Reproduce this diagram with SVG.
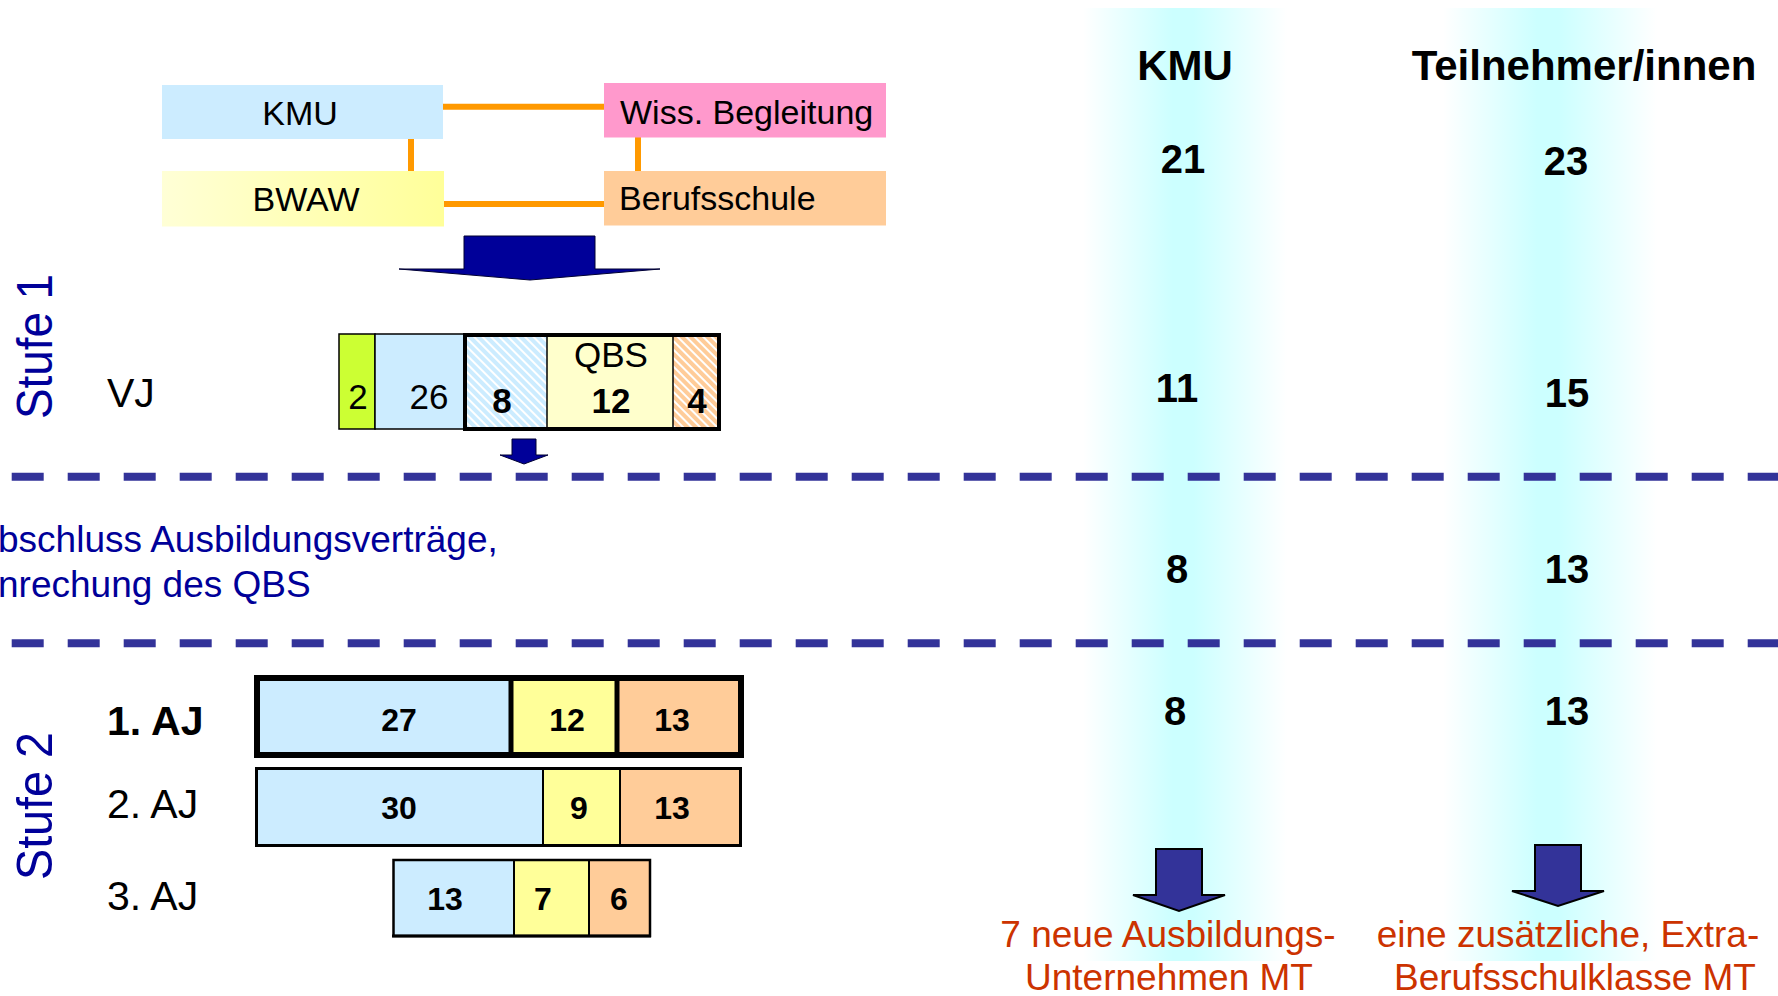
<svg xmlns="http://www.w3.org/2000/svg" width="1778" height="996" viewBox="0 0 1778 996">
<defs>
<linearGradient id="band" x1="0" y1="0" x2="1" y2="0">
<stop offset="0" stop-color="#FFFFFF"/>
<stop offset="0.44" stop-color="#CCFFFF"/>
<stop offset="0.54" stop-color="#CCFFFF"/>
<stop offset="1" stop-color="#FFFFFF"/>
</linearGradient>
<linearGradient id="bwaw" x1="0" y1="0" x2="1" y2="0">
<stop offset="0" stop-color="#FFFFD6"/>
<stop offset="1" stop-color="#FFFF99"/>
</linearGradient>
<pattern id="hatchBlue" patternUnits="userSpaceOnUse" width="6" height="6" patternTransform="rotate(-45)">
<rect width="6" height="6" fill="#CCECFF"/><rect width="2" height="6" fill="#FFFFFF"/>
</pattern>
<pattern id="hatchOrange" patternUnits="userSpaceOnUse" width="6" height="6" patternTransform="rotate(-45)">
<rect width="6" height="6" fill="#FFCC99"/><rect width="2" height="6" fill="#FFFFFF"/>
</pattern>
<style>
text{font-family:"Liberation Sans",Arial,sans-serif;}
.lbl{font-size:34px;fill:#000;}
.hdr{font-size:42px;font-weight:bold;fill:#000;text-anchor:middle;}
.num{font-size:40px;font-weight:bold;fill:#000;text-anchor:middle;}
.row{font-size:41px;fill:#000;}
.stufe{font-size:50px;fill:#000099;}
.blue{font-size:37px;fill:#000099;}
.red{font-size:37px;fill:#CC3300;text-anchor:middle;}
.cell{font-size:35px;fill:#000;text-anchor:middle;}
.cellb{font-size:35px;font-weight:bold;fill:#000;text-anchor:middle;}
.bar{font-size:32px;font-weight:bold;fill:#000;text-anchor:middle;}
.orange{stroke:#FF9900;stroke-width:6;fill:none;}
.dash{stroke:#333399;stroke-width:8;stroke-dasharray:32 24;fill:none;}
.thin{stroke:#000;stroke-width:1.5;}
.arrowDark{fill:#000099;stroke:#000033;stroke-width:1;}
.arrowBlue{fill:#333399;stroke:#000;stroke-width:2;stroke-linejoin:miter;}
</style>
</defs>
<rect width="1778" height="996" fill="#FFFFFF"/>

<g id="bands">
<rect x="1083" y="8" width="204" height="953" fill="url(#band)"/>
<rect x="1443" y="8" width="214" height="953" fill="url(#band)"/>
</g>

<g id="separators">
<line class="dash" x1="11.7" y1="476.7" x2="1778" y2="476.7"/>
<line class="dash" x1="11.7" y1="643.3" x2="1778" y2="643.3"/>
</g>

<g id="connectors">
<line class="orange" x1="443" y1="106.7" x2="604" y2="106.7"/>
<line class="orange" x1="444" y1="204" x2="604" y2="204"/>
<line class="orange" x1="411" y1="139" x2="411" y2="171"/>
<line class="orange" x1="638" y1="137" x2="638" y2="171"/>
<polygon class="arrowDark" points="464,236 595,236 595,269 660,269 530,280 399,269 464,269"/>
<polygon class="arrowDark" points="512,439 536,439 536,455 548,455 524,464 500,455 512,455"/>
<polygon class="arrowBlue" points="1156,849 1202,849 1202,895 1225,895 1179,911 1133,895 1156,895"/>
<polygon class="arrowBlue" points="1535,845 1581,845 1581,891 1604,891 1558,906 1512,891 1535,891"/>
</g>

<g id="node-kmu">
<rect x="162" y="85" width="281" height="54" fill="#CCECFF"/>
<text class="lbl" x="300" y="125" text-anchor="middle">KMU</text>
</g>
<g id="node-wiss">
<rect x="604" y="83" width="282" height="54.5" fill="#FF99CC"/>
<text class="lbl" x="620" y="124">Wiss. Begleitung</text>
</g>
<g id="node-bwaw">
<rect x="162" y="171" width="282" height="55.5" fill="url(#bwaw)"/>
<text class="lbl" x="306" y="211" text-anchor="middle">BWAW</text>
</g>
<g id="node-berufsschule">
<rect x="604" y="171" width="282" height="54.5" fill="#FFCC99"/>
<text class="lbl" x="619" y="210">Berufsschule</text>
</g>

<g id="headers">
<text class="hdr" x="1185" y="80">KMU</text>
<text class="hdr" x="1584" y="80">Teilnehmer/innen</text>
<text class="num" x="1183" y="173">21</text>
<text class="num" x="1566" y="175">23</text>
<text class="num" x="1177" y="402">11</text>
<text class="num" x="1567" y="407">15</text>
<text class="num" x="1177" y="583">8</text>
<text class="num" x="1567" y="583">13</text>
<text class="num" x="1175" y="725">8</text>
<text class="num" x="1567" y="725">13</text>
</g>

<g id="stufe-labels">
<text class="stufe" transform="translate(52,419) rotate(-90)" textLength="145" lengthAdjust="spacingAndGlyphs">Stufe 1</text>
<text class="stufe" transform="translate(52,880) rotate(-90)" textLength="148" lengthAdjust="spacingAndGlyphs">Stufe 2</text>
</g>

<g id="vj">
<text class="row" x="107" y="407">VJ</text>
<rect class="thin" x="339" y="334" width="36" height="95" fill="#CCFF33"/>
<rect class="thin" x="375" y="334" width="90" height="95" fill="#CCECFF"/>
<rect x="465" y="335" width="82" height="94" fill="url(#hatchBlue)"/>
<rect x="547" y="335" width="126" height="94" fill="#FFFFCC"/>
<rect x="673" y="335" width="46" height="94" fill="url(#hatchOrange)"/>
<line class="thin" x1="547" y1="335" x2="547" y2="429"/>
<line class="thin" x1="673" y1="335" x2="673" y2="429"/>
<rect x="465" y="335" width="254" height="94" fill="none" stroke="#000" stroke-width="4"/>
<text class="cell" x="358" y="409">2</text>
<text class="cell" x="429" y="409">26</text>
<text class="cellb" x="502" y="413">8</text>
<text class="cell" x="611" y="367">QBS</text>
<text class="cellb" x="611" y="413">12</text>
<text class="cellb" x="697" y="413">4</text>
</g>

<g id="uebergang">
<text class="blue" x="-2" y="551.7">bschluss Ausbildungsverträge,</text>
<text class="blue" x="-2" y="596.7">nrechung des QBS</text>
</g>

<g id="aj1">
<text class="row" x="107" y="735" font-weight="bold">1. AJ</text>
<rect x="257" y="678" width="254" height="77" fill="#CCECFF"/>
<rect x="511" y="678" width="106" height="77" fill="#FFFF99"/>
<rect x="617" y="678" width="124" height="77" fill="#FFCC99"/>
<line x1="511" y1="678" x2="511" y2="755" stroke="#000" stroke-width="5"/>
<line x1="617" y1="678" x2="617" y2="755" stroke="#000" stroke-width="5"/>
<rect x="257" y="678" width="484" height="77" fill="none" stroke="#000" stroke-width="6"/>
<text class="bar" x="399" y="731">27</text>
<text class="bar" x="567" y="731">12</text>
<text class="bar" x="672" y="731">13</text>
</g>

<g id="aj2">
<text class="row" x="107" y="818">2. AJ</text>
<rect x="256.5" y="768.5" width="286.5" height="77" fill="#CCECFF"/>
<rect x="543" y="768.5" width="77" height="77" fill="#FFFF99"/>
<rect x="620" y="768.5" width="120.5" height="77" fill="#FFCC99"/>
<line x1="543" y1="768.5" x2="543" y2="845.5" stroke="#000" stroke-width="2"/>
<line x1="620" y1="768.5" x2="620" y2="845.5" stroke="#000" stroke-width="2"/>
<rect x="256.5" y="768.5" width="484" height="77" fill="none" stroke="#000" stroke-width="3"/>
<text class="bar" x="399" y="819">30</text>
<text class="bar" x="579" y="819">9</text>
<text class="bar" x="672" y="819">13</text>
</g>

<g id="aj3">
<text class="row" x="107" y="910">3. AJ</text>
<rect x="393.5" y="860" width="120.5" height="76" fill="#CCECFF"/>
<rect x="514" y="860" width="75" height="76" fill="#FFFF99"/>
<rect x="589" y="860" width="61" height="76" fill="#FFCC99"/>
<line x1="514" y1="860" x2="514" y2="936" stroke="#000" stroke-width="2"/>
<line x1="589" y1="860" x2="589" y2="936" stroke="#000" stroke-width="2"/>
<rect x="393.5" y="860" width="256.5" height="76" fill="none" stroke="#000" stroke-width="2.5"/>
<line x1="392" y1="936" x2="651" y2="936" stroke="#000" stroke-width="3"/>
<text class="bar" x="445" y="910">13</text>
<text class="bar" x="543" y="910">7</text>
<text class="bar" x="619" y="910">6</text>
</g>

<g id="ergebnisse">
<text class="red" x="1168" y="946.7">7 neue Ausbildungs-</text>
<text class="red" x="1169" y="990">Unternehmen MT</text>
<text class="red" x="1568" y="946.7">eine zusätzliche, Extra-</text>
<text class="red" x="1575" y="990">Berufsschulklasse MT</text>
</g>
</svg>
